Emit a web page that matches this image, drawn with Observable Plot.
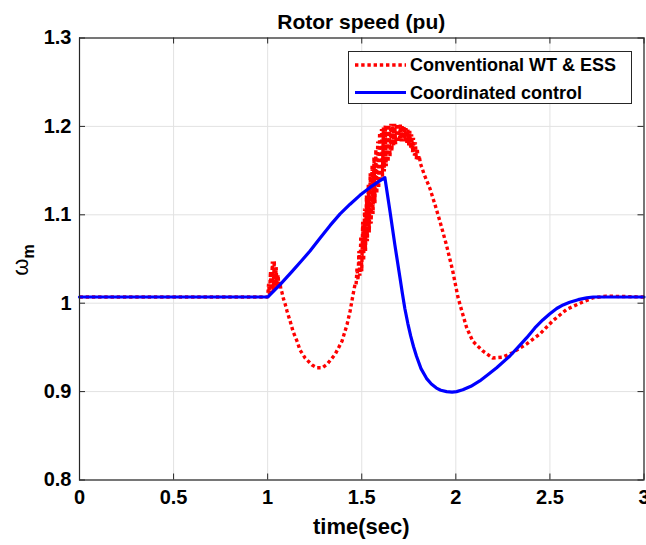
<!DOCTYPE html>
<html><head><meta charset="utf-8">
<script src="https://cdn.jsdelivr.net/npm/d3@7"></script>
<script src="https://cdn.jsdelivr.net/npm/@observablehq/plot@0.6"></script>
<style>html,body{margin:0;padding:0;background:#fff;overflow:hidden}</style>
</head><body><div id="chart"></div>
<script>
// ---- data ----
const titleText = "Rotor speed (pu)";
const xLabelText = "time(sec)";
const seriesNames = ["Conventional WT & ESS", "Coordinated control"];
const xTicks = [0, 0.5, 1, 1.5, 2, 2.5, 3];
const xTickLabels = ["0", "0.5", "1", "1.5", "2", "2.5", "3"];
const yTicks = [0.8, 0.9, 1, 1.1, 1.2, 1.3];
const yTickLabels = ["0.8", "0.9", "1", "1.1", "1.2", "1.3"];

// Coordinated control (blue)
const blueT = [0, 1.0, 1.066, 1.13, 1.18, 1.225, 1.28, 1.332, 1.385, 1.438, 1.49, 1.544, 1.585, 1.623,
  1.650, 1.676, 1.703, 1.716, 1.729, 1.745, 1.76, 1.775, 1.791, 1.815, 1.844, 1.87, 1.897, 1.92, 1.951, 1.98, 2.004,
  2.037, 2.08, 2.127, 2.17, 2.217, 2.286, 2.33, 2.377, 2.42, 2.462, 2.50, 2.536, 2.57, 2.605, 2.65, 2.695, 2.73, 3.0];
const blueV = [1.007, 1.007, 1.021, 1.036, 1.048, 1.059, 1.074, 1.088, 1.101, 1.112, 1.122, 1.131, 1.137, 1.142,
  1.104, 1.066, 1.029, 1.011, 0.994, 0.977, 0.963, 0.951, 0.940, 0.926, 0.915, 0.9085, 0.904, 0.9015, 0.900, 0.8995, 0.900,
  0.902, 0.906, 0.912, 0.919, 0.927, 0.940, 0.950, 0.961, 0.972, 0.981, 0.988, 0.994, 0.998, 1.001, 1.004, 1.006, 1.007, 1.007];

// Conventional WT & ESS (red dotted), including the oscillating parts
const redT = [0, 1.0,
  1.005, 1.010, 1.015, 1.020, 1.025, 1.030, 1.035, 1.040, 1.045, 1.050, 1.055, 1.060, 1.065, 1.070, 1.075,
  1.084, 1.093, 1.103, 1.119, 1.135, 1.156, 1.172, 1.199, 1.236, 1.263, 1.290, 1.316, 1.358, 1.395, 1.422, 1.438, 1.454,
  1.465, 1.470, 1.475, 1.480, 1.485, 1.490, 1.495, 1.500, 1.505, 1.510, 1.515, 1.520, 1.525, 1.530, 1.535, 1.540,
  1.545, 1.550, 1.555, 1.560, 1.565, 1.570, 1.575, 1.580, 1.585, 1.590, 1.595, 1.600, 1.605, 1.610, 1.615, 1.620,
  1.625, 1.630, 1.635, 1.640, 1.645, 1.650, 1.655, 1.660, 1.665, 1.670, 1.675, 1.680, 1.685, 1.690, 1.695, 1.700,
  1.705, 1.710, 1.715, 1.720, 1.725, 1.730, 1.735, 1.740, 1.745, 1.750, 1.755, 1.760, 1.765, 1.770, 1.775, 1.780,
  1.785, 1.790, 1.795, 1.800, 1.805,
  1.812, 1.833, 1.862, 1.890, 1.915, 1.950, 1.984, 2.011, 2.032, 2.058, 2.090, 2.143, 2.196, 2.249, 2.302, 2.377,
  2.446, 2.515, 2.589, 2.660, 2.727, 2.801, 3.0];
const redV = [1.007, 1.007,
  1.022, 1.010, 1.036, 1.012, 1.047, 1.014, 1.048, 1.016, 1.041, 1.017, 1.032, 1.018, 1.024, 1.016, 1.013,
  1.005, 0.999, 0.991, 0.980, 0.968, 0.957, 0.947, 0.938, 0.930, 0.927, 0.927, 0.931, 0.942, 0.957, 0.976, 0.991, 1.010,
  1.022, 1.021, 1.040, 1.026, 1.059, 1.031, 1.076, 1.036, 1.092, 1.048, 1.107, 1.059, 1.122, 1.070, 1.135, 1.080,
  1.147, 1.090, 1.156, 1.101, 1.165, 1.113, 1.174, 1.124, 1.183, 1.130, 1.193, 1.137, 1.197, 1.143, 1.199, 1.149,
  1.201, 1.155, 1.202, 1.160, 1.202, 1.166, 1.203, 1.172, 1.203, 1.178, 1.203, 1.180, 1.203, 1.182, 1.203, 1.183,
  1.202, 1.183, 1.201, 1.183, 1.200, 1.183, 1.198, 1.181, 1.197, 1.178, 1.195, 1.175, 1.191, 1.171, 1.187, 1.167,
  1.182, 1.163, 1.175, 1.161, 1.167,
  1.158, 1.145, 1.130, 1.111, 1.093, 1.066, 1.036, 1.007, 0.991, 0.972, 0.957, 0.946, 0.938, 0.939, 0.944, 0.954,
  0.965, 0.980, 0.993, 1.000, 1.006, 1.008, 1.007];

// ---- layout ----
const W = 646, H = 545, mL = 79, mR = 2.5, mT = 37.5, mB = 65.5;
const innerW = W - mL - mR, innerH = H - mT - mB;
const font = "'Liberation Sans', Arial, Helvetica, sans-serif";
const axisCol = "#262626";
const gridCol = "#e2e2e2";
const redCol = "#ff0000", blueCol = "#0000ff";
const dash = "3.4 2.8";

const blue = blueT.map((t, i) => ({t, v: blueV[i]}));
const red = redT.map((t, i) => ({t, v: redV[i]}));

const plot = Plot.plot({
  width: W, height: H,
  marginLeft: mL, marginRight: mR, marginTop: mT, marginBottom: mB,
  x: {domain: [0, 3]},
  y: {domain: [0.8, 1.3]},
  style: {fontFamily: font, fontWeight: "bold", fontSize: "20px", color: "#000", background: "#fff"},
  marks: [
    Plot.gridX(xTicks, {stroke: gridCol, strokeOpacity: 1, strokeWidth: 1}),
    Plot.gridY(yTicks, {stroke: gridCol, strokeOpacity: 1, strokeWidth: 1}),
    Plot.line(red, {x: "t", y: "v", stroke: redCol, strokeWidth: 3.4, strokeDasharray: dash,
      strokeLinecap: "butt", strokeLinejoin: "miter"}),
    Plot.line(blue, {x: "t", y: "v", stroke: blueCol, strokeWidth: 3.2}),
    Plot.tickX(xTicks, {x: d => d, insetTop: innerH - 6, stroke: axisCol}),
    Plot.tickX(xTicks, {x: d => d, insetBottom: innerH - 6, stroke: axisCol}),
    Plot.tickY(yTicks, {y: d => d, insetRight: innerW - 6, stroke: axisCol}),
    Plot.tickY(yTicks, {y: d => d, insetLeft: innerW - 6, stroke: axisCol}),
    Plot.frame({stroke: axisCol, strokeWidth: 1.2}),
    Plot.axisX(xTicks, {tickSize: 0, tickPadding: 10, label: null, fill: "#000",
      tickFormat: d => xTickLabels[xTicks.indexOf(d)]}),
    Plot.axisY(yTicks, {tickSize: 0, tickPadding: 8, label: null, fill: "#000",
      tickFormat: d => yTickLabels[yTicks.indexOf(d)]})
  ]
});

const svg = d3.select(plot);
svg.append("text")
  .attr("x", mL + innerW / 2).attr("y", 28.5)
  .attr("text-anchor", "middle")
  .style("font-size", "21px").style("font-weight", "bold").attr("fill", "#000")
  .text(titleText);
svg.append("text")
  .attr("x", mL + innerW / 2).attr("y", 534)
  .attr("text-anchor", "middle")
  .style("font-size", "22px").style("font-weight", "bold").attr("fill", "#000")
  .text(xLabelText);
const yl = svg.append("text")
  .attr("transform", "translate(28,260) rotate(-90)")
  .attr("text-anchor", "middle").attr("fill", "#000");
yl.append("tspan").style("font-size", "22px").style("font-weight", "normal").text("ω");
yl.append("tspan").attr("dy", 6).style("font-size", "16px").style("font-weight", "bold").text("m");

// legend
const lg = svg.append("g");
lg.append("rect").attr("x", 348.5).attr("y", 51.5).attr("width", 283).attr("height", 52)
  .attr("fill", "#fff").attr("stroke", axisCol).attr("stroke-width", 1);
const rows = [{y: 65, col: redCol, dash: dash, w: 3.4}, {y: 92.5, col: blueCol, dash: null, w: 3.2}];
rows.forEach((r, i) => {
  lg.append("line").attr("x1", 355).attr("x2", 406).attr("y1", r.y).attr("y2", r.y)
    .attr("stroke", r.col).attr("stroke-width", r.w).attr("stroke-dasharray", r.dash);
  lg.append("text").attr("x", 410).attr("y", r.y).attr("dy", "0.36em")
    .attr("text-anchor", "start")
    .style("font-size", "18px").style("font-weight", "bold").attr("fill", "#000")
    .text(seriesNames[i]);
});

document.getElementById("chart").appendChild(plot);
</script>
</body></html>
